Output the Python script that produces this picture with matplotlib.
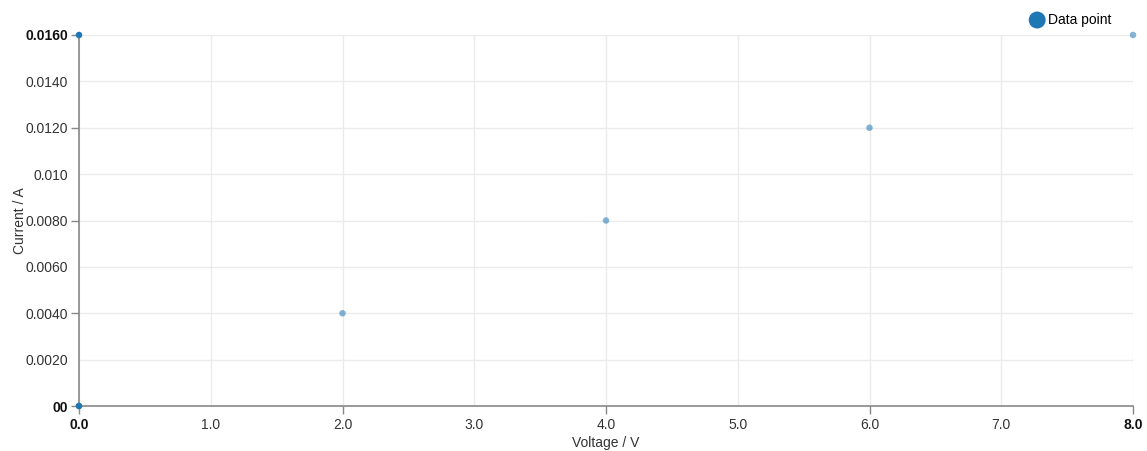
import matplotlib
matplotlib.use("Agg")
import matplotlib.pyplot as plt
import numpy as np

plt.rcParams['font.family'] = ['Liberation Sans', 'DejaVu Sans']

# data
voltage = [0.0, 2.0, 4.0, 6.0, 8.0]
current = [0.0, 0.004, 0.008, 0.012, 0.016]

x_grid = [0.0, 1.0, 2.0, 3.0, 4.0, 5.0, 6.0, 7.0, 8.0]
x_labels = ["0.0", "1.0", "2.0", "3.0", "4.0", "5.0", "6.0", "7.0", "8.0"]
y_grid = [0.0, 0.002, 0.004, 0.006, 0.008, 0.010, 0.012, 0.014, 0.016]
y_labels = ["00", "0.0020", "0.0040", "0.0060", "0.0080", "0.010",
            "0.0120", "0.0140", "0.0160"]

blue = "#1f77b4"
axis_col = "#888888"

fig = plt.figure(figsize=(11.47, 4.51), dpi=100)
ax = fig.add_axes([79/1147, 1-406/451, (1133-79)/1147, (406-35)/451])

ax.set_xlim(x_grid[0], x_grid[-1])
ax.set_ylim(y_grid[0], y_grid[-1])

ax.xaxis.remove_overlapping_locs = False
ax.yaxis.remove_overlapping_locs = False

# tick marks at the data values (major, unlabeled)
ax.set_xticks(voltage, labels=[""] * len(voltage))
ax.set_yticks(current, labels=[""] * len(current))
ax.tick_params(which='major', length=6, width=1, color=axis_col)

# grid + labels (minor, no tick marks)
ax.set_xticks(x_grid, labels=x_labels, minor=True)
ax.set_yticks(y_grid, labels=y_labels, minor=True)
ax.tick_params(axis='y', which='minor', length=0, labelsize=10,
               labelcolor="#333333", pad=8)
ax.tick_params(axis='x', which='minor', length=0, labelsize=10,
               labelcolor="#333333", pad=8.5)
ax.grid(True, which='minor', color="#ebebeb", linewidth=1)
ax.grid(False, which='major')
ax.set_axisbelow(True)

for lab in (ax.xaxis.get_minorticklabels()[0], ax.xaxis.get_minorticklabels()[-1],
            ax.yaxis.get_minorticklabels()[0], ax.yaxis.get_minorticklabels()[-1]):
    lab.set_fontweight('bold')
    lab.set_color("#111111")

for s in ('top', 'right'):
    ax.spines[s].set_visible(False)
for s in ('left', 'bottom'):
    ax.spines[s].set_color(axis_col)
    ax.spines[s].set_linewidth(1.2)

ax.scatter(voltage, current, s=22, color=blue, alpha=0.55, edgecolor='none',
           zorder=5, clip_on=False, label="Data point")
# axis end markers
ax.scatter([voltage[0], voltage[0]], [min(current), max(current)], s=22,
           color=blue, edgecolor='none', zorder=6, clip_on=False)

ax.set_xlabel("Voltage / V", fontsize=10, color="#333333", labelpad=3)
ax.set_ylabel("Current / A", fontsize=10, color="#333333", labelpad=-1)

leg = ax.legend(loc='lower right', bbox_to_anchor=(0.987, 1.0), frameon=False,
                fontsize=10, handletextpad=-0.25, markerscale=2.6,
                borderaxespad=0.2)
for h in leg.legend_handles:
    h.set_alpha(1)

fig.savefig("out.png", dpi=100)
